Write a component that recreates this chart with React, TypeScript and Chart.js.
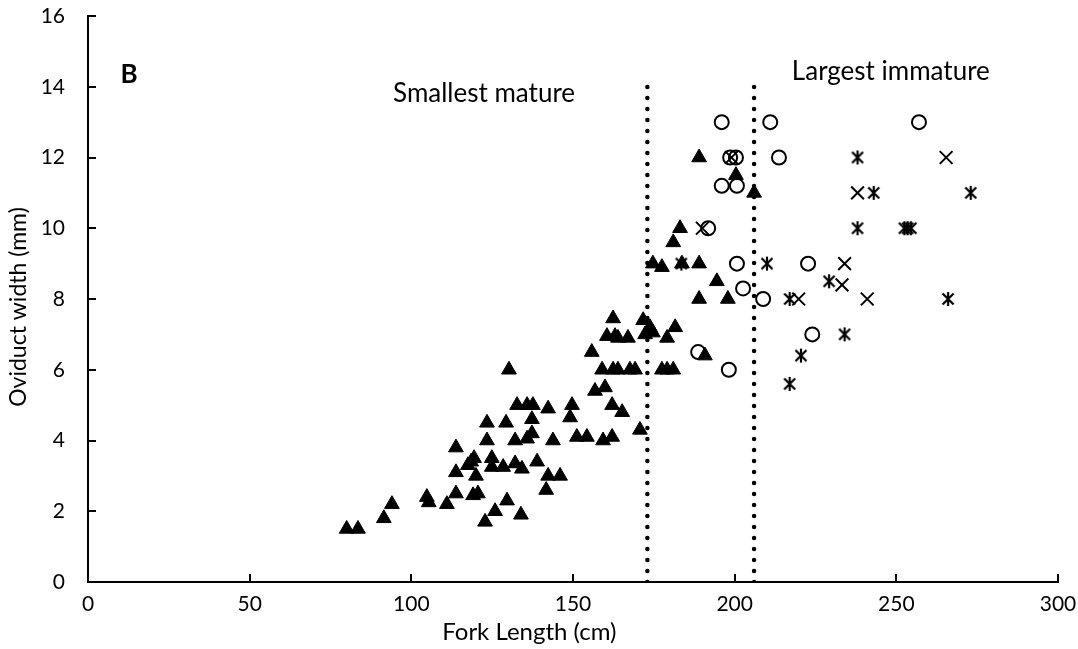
import React, { useEffect, useLayoutEffect, useRef } from "react";
import { Chart, registerables } from "chart.js";
Chart.register(...registerables);

// ---- data (Fork length cm, Oviduct width mm) ----
const trianglePoints: [number, number][] = [
  [80, 1.5], [83.5, 1.5], [91.5, 1.8], [94, 2.2], [104.8, 2.4], [105.4, 2.25], [111, 2.2],
  [113.8, 3.8], [113.8, 3.1], [113.8, 2.5], [117.5, 3.3], [118.5, 3.4], [119.4, 3.5], [120, 3.0],
  [119.1, 2.45], [120.6, 2.5], [123.4, 4.5], [123.4, 4.0], [124.9, 3.5], [124.9, 3.25], [125.9, 2.0],
  [122.8, 1.7], [128.4, 3.25], [129.3, 4.5], [129.6, 2.3], [130.2, 6.0], [132.1, 4.0], [132.7, 5.0],
  [132.1, 3.35], [133.9, 1.9], [134.2, 3.2], [135.8, 5.0], [135.8, 4.05], [137.3, 4.2], [137.3, 4.6],
  [137.6, 5.0], [138.9, 3.4], [141.7, 2.6], [142.3, 3.0], [142.3, 4.9], [143.8, 4.0], [146, 3.0],
  [149.1, 4.65], [149.7, 5.0], [151.2, 4.1], [154.3, 4.1], [155.8, 6.5], [156.8, 5.4], [159, 6.0],
  [159.9, 5.5], [159.3, 4.0], [160.5, 6.95], [162.1, 4.1], [162.1, 5.0], [162.4, 7.45], [162.4, 6.0],
  [163, 6.95], [163.9, 6.0], [163.9, 6.9], [165.2, 4.8], [167, 6.9], [167.6, 6.0], [169.2, 6.0],
  [170.7, 4.3], [171.7, 7.4], [172.3, 7.0], [173.8, 7.2], [174.7, 7.05], [174.7, 9.0], [177.5, 8.9],
  [177.5, 6.0], [179.1, 6.9], [179.1, 6.0], [181, 6.0], [181.6, 7.2], [181, 9.6], [183.1, 10.0],
  [183.7, 9.0], [189, 9.0], [189, 12.0], [189, 8.0], [190.8, 6.4], [194.5, 8.5], [197.9, 8.0],
  [200.4, 11.5], [206, 11.0],
];
const circlePoints: [number, number][] = [
  [196, 13], [211, 13], [257, 13], [198.6, 12], [200.4, 12], [213.7, 12], [196, 11.2], [200.7, 11.2],
  [191.8, 10], [200.7, 9], [222.7, 9], [202.6, 8.3], [208.8, 8], [224, 7], [188.7, 6.5], [198.2, 6],
];
const crossPoints: [number, number][] = [
  [199, 12], [190, 10], [238, 11], [265.4, 12], [234, 9], [233.2, 8.4], [219.8, 8], [241, 8],
];
const asteriskPoints: [number, number][] = [
  [183.5, 9], [210, 9], [217, 8], [238, 12], [243, 11], [273, 11], [238, 10], [252.5, 10],
  [253.5, 10], [254.5, 10], [229.2, 8.5], [220.5, 6.4], [217, 5.6], [234, 7], [266, 8],
];
const smallestMature = 173;
const largestImmature = 206;
const markerTop = 14;

const xTicks = [0, 50, 100, 150, 200, 250, 300];
const yTicks = [0, 2, 4, 6, 8, 10, 12, 14, 16];

const FONT = "Lato, 'Open Sans', sans-serif";

function makeAsterisk(): HTMLCanvasElement {
  const c = document.createElement("canvas");
  c.width = 18;
  c.height = 18;
  const g = c.getContext("2d")!;
  g.strokeStyle = "#000";
  g.lineWidth = 2.2;
  const h = 9;
  g.beginPath();
  g.moveTo(h - 5.5, h - 5.5); g.lineTo(h + 5.5, h + 5.5);
  g.moveTo(h + 5.5, h - 5.5); g.lineTo(h - 5.5, h + 5.5);
  g.moveTo(h, h - 7); g.lineTo(h, h + 7);
  g.stroke();
  return c;
}

const toXY = (arr: [number, number][]) => arr.map(([x, y]) => ({ x, y }));

export default function App() {
  const ref = useRef<HTMLCanvasElement | null>(null);

  useLayoutEffect(() => {
    const prev = document.body.style.margin;
    document.body.style.margin = "0";
    return () => { document.body.style.margin = prev; };
  }, []);

  useEffect(() => {
    if (!ref.current) return;
    const asterisk = makeAsterisk();

    const decor = {
      id: "decor",
      afterDraw(chart: any) {
        const { ctx, scales } = chart;
        const xs = scales.x, ys = scales.y;
        const left = chart.chartArea.left, bottom = chart.chartArea.bottom;
        ctx.save();
        ctx.strokeStyle = "#000";
        ctx.lineWidth = 2;
        ctx.beginPath();
        yTicks.forEach((v) => {
          const py = Math.round(ys.getPixelForValue(v));
          ctx.moveTo(left, py); ctx.lineTo(left + 8, py);
        });
        xTicks.forEach((v) => {
          const px = Math.round(xs.getPixelForValue(v));
          ctx.moveTo(px, bottom); ctx.lineTo(px, bottom - 8);
        });
        ctx.stroke();

        ctx.fillStyle = "#000";
        ctx.textAlign = "center";
        ctx.textBaseline = "middle";
        ctx.font = `26px ${FONT}`;
        ctx.fillText("Smallest mature", xs.getPixelForValue(122.5), ys.getPixelForValue(13.8));
        ctx.fillText("Largest immature", xs.getPixelForValue(248.3), ys.getPixelForValue(14.42));
        ctx.font = `bold 26px ${FONT}`;
        ctx.fillText("B", xs.getPixelForValue(12.7), ys.getPixelForValue(14.35));
        // x axis title
        ctx.font = `24px ${FONT}`;
        ctx.fillText("Fork Length (cm)", xs.getPixelForValue(136.5), 632);
        // y axis title
        ctx.font = `23px ${FONT}`;
        ctx.translate(19, 307);
        ctx.rotate(-Math.PI / 2);
        ctx.fillText("Oviduct width (mm)", 0, 0);
        ctx.restore();
      },
    };

    const dotted = (x: number) => ({
      type: "line" as const,
      data: [{ x, y: 0 }, { x, y: markerTop }],
      showLine: true,
      borderColor: "#000",
      borderWidth: 4.5,
      borderDash: [0, 11],
      borderCapStyle: "round",
      pointRadius: 0,
      fill: false,
    });

    const chart = new Chart(ref.current, {
      type: "scatter",
      data: {
        datasets: [
          {
            label: "Immature",
            data: toXY(trianglePoints),
            pointStyle: "triangle",
            pointRadius: 8.5,
            pointBackgroundColor: "#000",
            pointBorderColor: "#000",
            pointBorderWidth: 1,
          },
          {
            label: "Mature",
            data: toXY(circlePoints),
            pointStyle: "circle",
            pointRadius: 7,
            pointBackgroundColor: "rgba(0,0,0,0)",
            pointBorderColor: "#000",
            pointBorderWidth: 2,
          },
          {
            label: "Cross",
            data: toXY(crossPoints),
            pointStyle: "crossRot",
            pointRadius: 9,
            pointBorderColor: "#000",
            pointBorderWidth: 2,
          },
          {
            label: "Asterisk",
            data: toXY(asteriskPoints),
            pointStyle: asterisk,
            pointRadius: 9,
          },
          dotted(smallestMature) as any,
          dotted(largestImmature) as any,
        ],
      },
      options: {
        animation: false,
        responsive: false,
        devicePixelRatio: 1,
        layout: { padding: { top: 16, right: 20, bottom: 0, left: 0 } },
        plugins: { legend: { display: false }, tooltip: { enabled: false } },
        scales: {
          x: {
            type: "linear",
            min: 0,
            max: 300,
            afterBuildTicks: (s: any) => { s.ticks = xTicks.map((v) => ({ value: v })); },
            afterFit: (s: any) => { s.height = 67; s.paddingLeft = 0; s.paddingRight = 0; },
            grid: { display: false, drawTicks: false },
            border: { display: true, color: "#000", width: 2 },
            ticks: { color: "#000", font: { family: FONT, size: 21 }, padding: 10, maxRotation: 0 },
            title: { display: false },
          },
          y: {
            type: "linear",
            min: 0,
            max: 16,
            afterBuildTicks: (s: any) => { s.ticks = yTicks.map((v) => ({ value: v })); },
            afterFit: (s: any) => { s.width = 88; s.paddingTop = 0; s.paddingBottom = 0; },
            grid: { display: false, drawTicks: false },
            border: { display: true, color: "#000", width: 2 },
            ticks: { color: "#000", font: { family: FONT, size: 21 }, padding: 23 },
            title: { display: false },
          },
        },
      } as any,
      plugins: [decor],
    });
    return () => chart.destroy();
  }, []);

  return (
    <div style={{ width: 1078, height: 649 }}>
      <canvas ref={ref} width={1078} height={649} style={{ display: "block" }} />
    </div>
  );
}
